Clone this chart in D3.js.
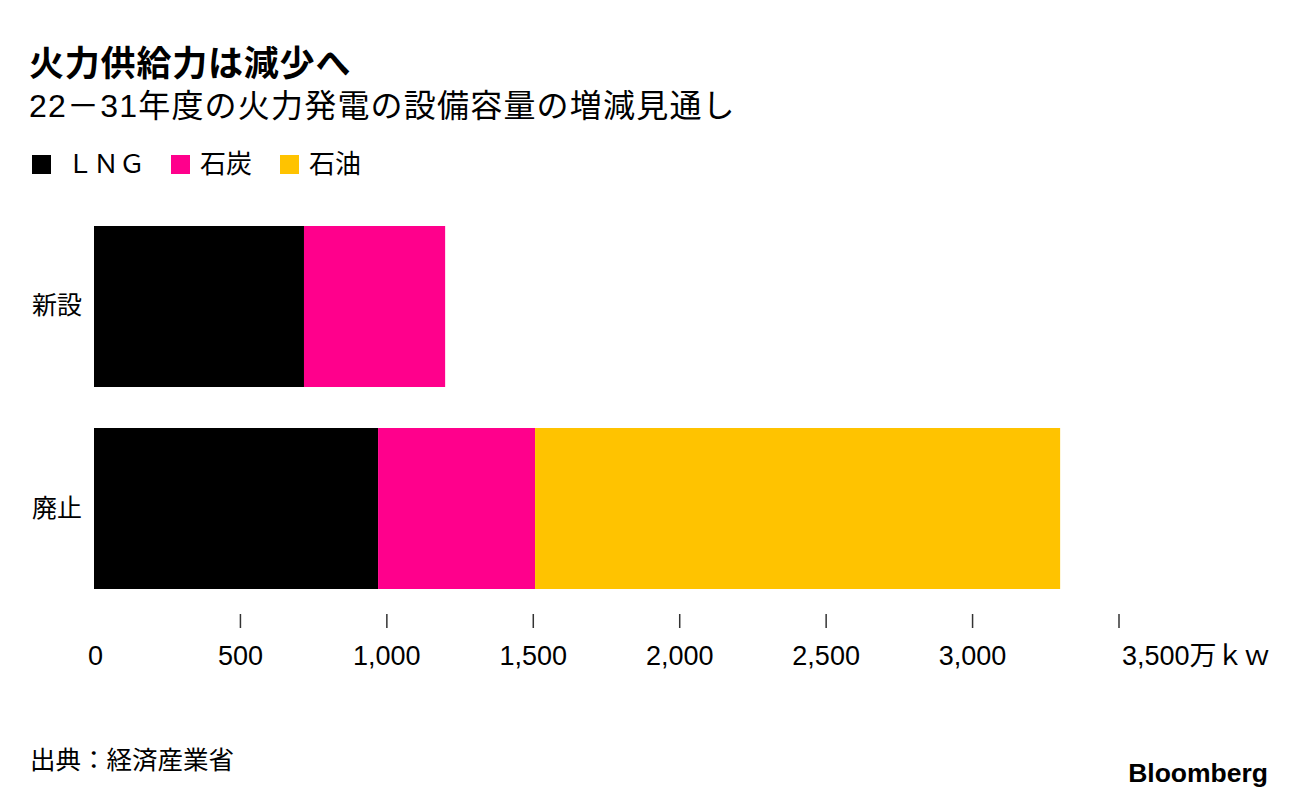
<!DOCTYPE html>
<html>
<head>
<meta charset="utf-8">
<script src="https://cdn.jsdelivr.net/npm/d3@7"></script>
<style>
body { margin: 0; background: #fff; }
text { font-family: "Liberation Sans", "Noto Sans CJK JP", sans-serif; }
.jp { font-family: "Noto Sans CJK JP", sans-serif; }
</style>
</head>
<body>
<div id="chart"></div>
<script>
// data (万kW)
var categories = ["新設", "廃止"];
var lng = [717, 970];
var coal = [482, 536];
var oil = [0, 1793];
var keys = ["LNG", "石炭", "石油"];
var legendLabels = ["ＬＮＧ", "石炭", "石油"];
var ticks = [0, 500, 1000, 1500, 2000, 2500, 3000, 3500];
var colors = ["#000000", "#ff008c", "#ffc300"];

var rows = categories.map(function(c, i) {
	return { cat: c, "LNG": lng[i], "石炭": coal[i], "石油": oil[i] };
});

var svg = d3.select("#chart")
	.append("svg")
	.attr("width", 1296)
	.attr("height", 800);

// titles
svg.append("text")
	.attr("class", "jp")
	.attr("x", 29)
	.attr("y", 76)
	.style("font-size", "35px")
	.style("font-weight", "bold")
	.style("letter-spacing", "0.8px")
	.text("火力供給力は減少へ");

svg.append("text")
	.attr("x", 29)
	.attr("y", 117)
	.style("font-size", "32px")
	.style("letter-spacing", "1.2px")
	.text("22－31年度の火力発電の設備容量の増減見通し");

var x = d3.scaleLinear().domain([0, 3500]).range([94, 1119]);
var y = d3.scaleBand().domain(categories).range([226, 589]).paddingInner(0.203).paddingOuter(0);
var color = d3.scaleOrdinal().domain(keys).range(colors);

// legend
var legendX = [32, 171, 280];
var legend = svg.selectAll(".legend")
	.data(keys)
	.enter().append("g")
	.attr("class", "legend")
	.attr("transform", function(d, i) { return "translate(" + legendX[i] + ",155)"; });

legend.append("rect")
	.attr("width", 19)
	.attr("height", 19)
	.attr("fill", function(d) { return color(d); });

legend.append("text")
	.attr("class", "jp")
	.attr("x", function(d, i) { return i == 0 ? 35 : 29; })
	.attr("y", 18)
	.style("font-size", "26px")
	.text(function(d, i) { return legendLabels[i]; });

// stacked bars
var series = d3.stack().keys(keys)(rows);

svg.selectAll(".series")
	.data(series)
	.enter().append("g")
	.attr("class", "series")
	.attr("fill", function(d) { return color(d.key); })
	.selectAll("rect")
	.data(function(d) { return d; })
	.enter().append("rect")
	.attr("x", function(d) { return x(d[0]); })
	.attr("y", function(d) { return y(d.data.cat); })
	.attr("width", function(d) { return x(d[1]) - x(d[0]); })
	.attr("height", y.bandwidth());

// category labels
svg.selectAll(".cat")
	.data(categories)
	.enter().append("text")
	.attr("class", "jp")
	.attr("x", 32)
	.attr("y", function(d) { return y(d) + y.bandwidth() / 2 + 8; })
	.style("font-size", "25px")
	.text(function(d) { return d; });

// x axis: ticks without domain line
var axis = svg.append("g");
axis.selectAll("line")
	.data(ticks.filter(function(t) { return t > 0; }))
	.enter().append("line")
	.attr("x1", function(d) { return x(d); })
	.attr("x2", function(d) { return x(d); })
	.attr("y1", 614)
	.attr("y2", 628)
	.attr("stroke", "#333")
	.attr("stroke-width", 1.5);

var fmt = d3.format(",");
axis.selectAll("text")
	.data(ticks)
	.enter().append("text")
	.attr("x", function(d, i) { return i == 0 ? x(d) - 6 : x(d) + (i == ticks.length - 1 ? 3 : 0); })
	.attr("y", 665)
	.attr("text-anchor", function(d, i) { return (i == 0 || i == ticks.length - 1) ? "start" : "middle"; })
	.style("font-size", "27px")
	.text(function(d, i) { return i == ticks.length - 1 ? fmt(d) + "万ｋｗ" : fmt(d); });

// footer
svg.append("text")
	.attr("class", "jp")
	.attr("x", 30)
	.attr("y", 769)
	.style("font-size", "25.5px")
	.text("出典：経済産業省");

svg.append("text")
	.attr("x", 1268)
	.attr("y", 782)
	.attr("text-anchor", "end")
	.style("font-size", "26.5px")
	.style("font-weight", "bold")
	.text("Bloomberg");
</script>
</body>
</html>
